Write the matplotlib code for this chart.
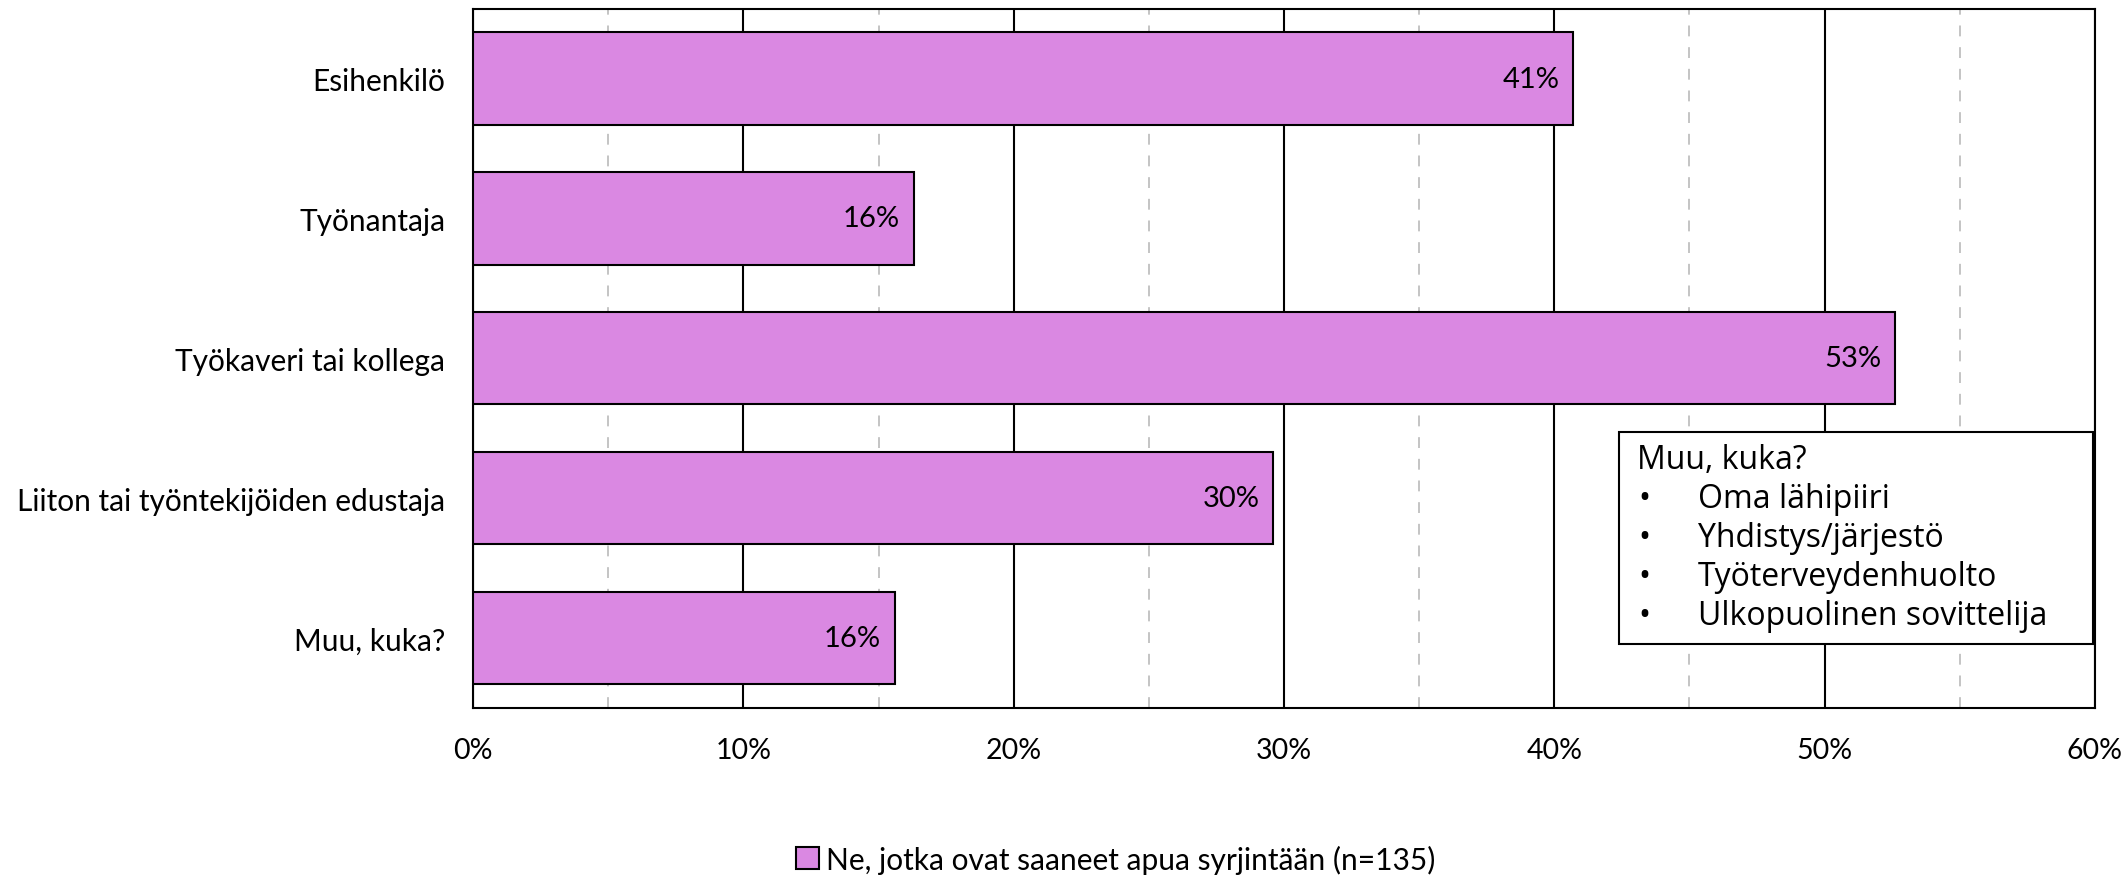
import matplotlib
matplotlib.use("Agg")
import matplotlib.pyplot as plt
from matplotlib.patches import Patch, Rectangle
from matplotlib.ticker import MultipleLocator, FuncFormatter

categories = ["Esihenkilö", "Työnantaja", "Työkaveri tai kollega",
              "Liiton tai työntekijöiden edustaja", "Muu, kuka?"]
values = [40.7, 16.3, 52.6, 29.6, 15.6]
series_name = "Ne, jotka ovat saaneet apua syrjintään (n=135)"
note_title = "Muu, kuka?"
note_items = ["Oma lähipiiri", "Yhdistys/järjestö",
              "Työterveydenhuolto", "Ulkopuolinen sovittelija"]

bar_color = "#DA88E2"
main_font = ["Lato", "DejaVu Sans"]
note_font = ["Open Sans", "DejaVu Sans"]
plt.rcParams["font.family"] = main_font

fig = plt.figure(figsize=(21.26, 8.79), dpi=100)
ax = fig.add_axes([0.2225, 0.1934, 0.9854 - 0.2225, 0.989 - 0.1934])

ypos = list(range(len(categories)))
ax.barh(ypos, values, height=0.66, color=bar_color, edgecolor="black",
        linewidth=1.5, zorder=3)

for y, v in zip(ypos, values):
    ax.annotate(f"{v:.0f}%", xy=(v, y), xytext=(-10, 0),
                textcoords="offset points", ha="right", va="center",
                fontsize=21, zorder=4)

ax.set_xlim(0, 60)
ax.set_ylim(len(categories) - 0.5, -0.5)
ax.set_yticks(ypos)
ax.set_yticklabels(categories, fontsize=21.5)
ax.xaxis.set_major_locator(MultipleLocator(10))
ax.xaxis.set_minor_locator(MultipleLocator(5))
ax.xaxis.set_major_formatter(FuncFormatter(lambda x, _: f"{x:.0f}%"))
ax.tick_params(axis="x", which="major", labelsize=20.5, length=0, pad=21)
ax.tick_params(axis="x", which="minor", length=0)
ax.tick_params(axis="y", length=0, pad=20)

ax.grid(axis="x", which="major", color="black", linewidth=1.5, zorder=0)
ax.grid(axis="x", which="minor", color="#BFBFBF", linewidth=1.3,
        linestyle=(0, (6, 6)), zorder=0)
ax.grid(axis="y", visible=False)
ax.set_axisbelow(True)
for sp in ax.spines.values():
    sp.set_color("black")
    sp.set_linewidth(1.5)

# Text box listing the "other" answers
bx0, by0, bx1, by1 = 0.7065, 0.091, 0.9987, 0.395
ax.add_patch(Rectangle((bx0, by0), bx1 - bx0, by1 - by0,
                       transform=ax.transAxes, facecolor="white",
                       edgecolor="black", linewidth=1.5, zorder=5))
line_h = 0.0556
ty = 0.3547
ax.text(bx0 + 0.011, ty, note_title, transform=ax.transAxes,
        ha="left", va="center", fontsize=23, family=note_font, zorder=6)
for item in note_items:
    ty -= line_h
    ax.text(bx0 + 0.012, ty, "•", transform=ax.transAxes,
            ha="left", va="center", fontsize=23, family=note_font, zorder=6)
    ax.text(bx0 + 0.0485, ty, item, transform=ax.transAxes,
            ha="left", va="center", fontsize=23, family=note_font, zorder=6)

handle = Patch(facecolor=bar_color, edgecolor="black", linewidth=1.5)
fig.legend([handle], [series_name], loc="center",
           bbox_to_anchor=(1116 / 2126, 1 - 860 / 879), frameon=False,
           fontsize=21.5, handlelength=0.75, handleheight=0.75,
           handletextpad=0.25)

fig.savefig("out.png", dpi=100)
